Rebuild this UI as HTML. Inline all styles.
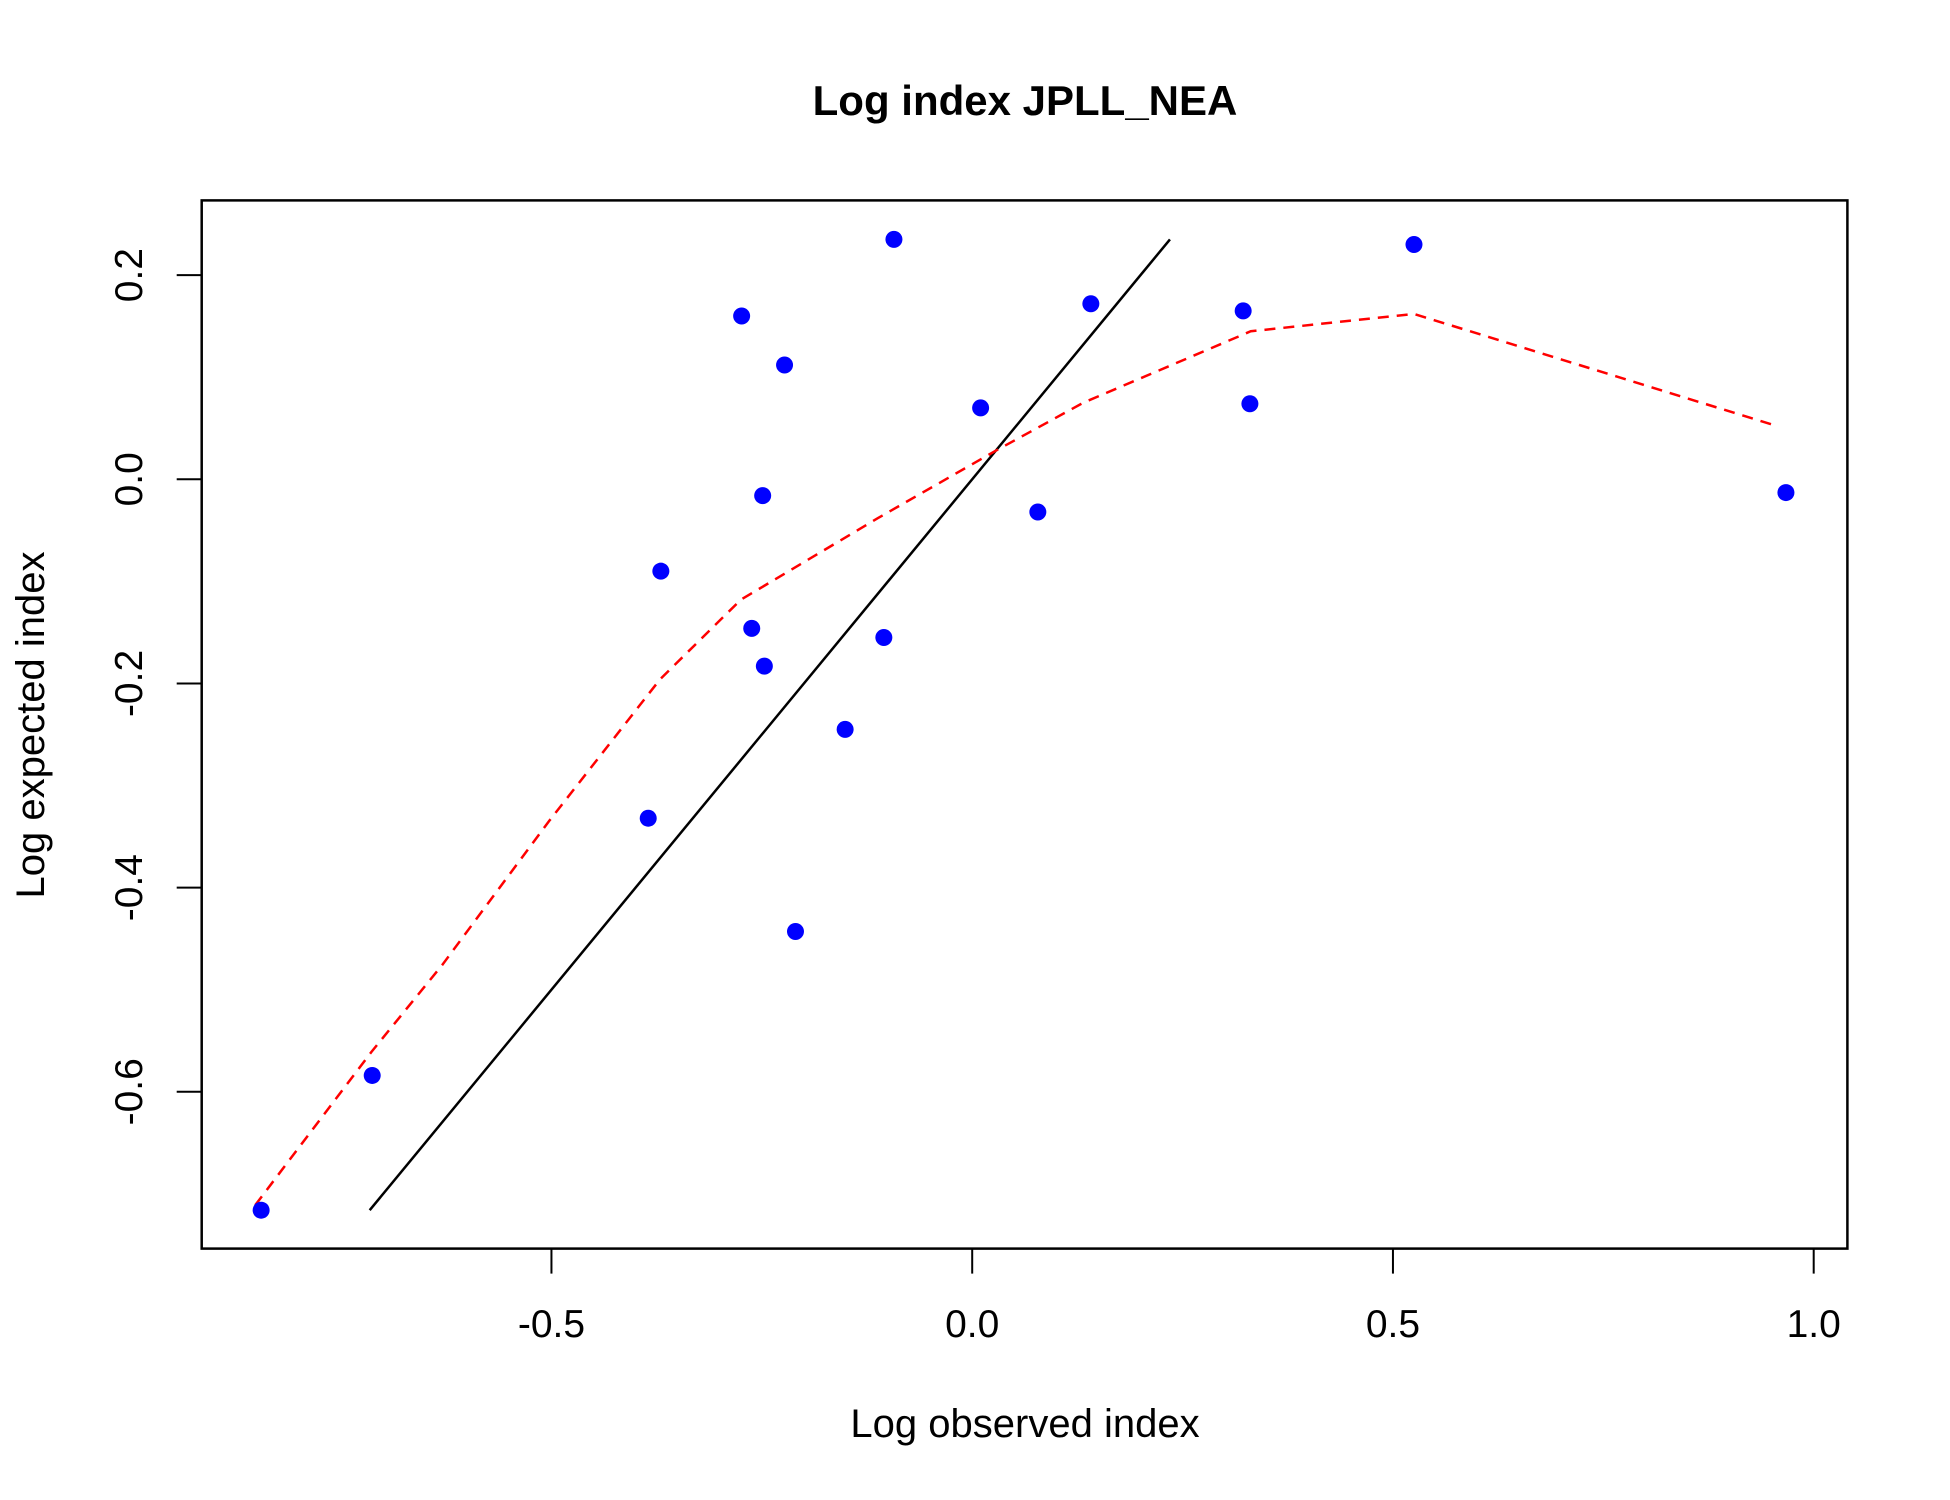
<!DOCTYPE html>
<html><head><meta charset="utf-8"><style>body{margin:0;background:#fff}svg{display:block}text{font-family:"Liberation Sans",Arial,sans-serif}</style></head>
<body>
<svg id="chart" width="1950" height="1500" xmlns="http://www.w3.org/2000/svg">
<rect width="1950" height="1500" fill="#fff"/>
<text x="1025" y="115" font-size="42" font-weight="bold" text-anchor="middle">Log index JPLL_NEA</text>
<g id="plot"></g>
<text x="1025" y="1437" font-size="40" text-anchor="middle">Log observed index</text>
<text transform="translate(44,725) rotate(-90)" font-size="40" text-anchor="middle">Log expected index</text>
</svg>
<script>
const obsX=[-0.845,-0.713,-0.385,-0.370,-0.274,-0.262,-0.249,-0.247,-0.223,-0.210,-0.151,-0.105,-0.093,0.010,0.078,0.141,0.322,0.330,0.525,0.967];
const expY=[-0.716,-0.584,-0.332,-0.090,0.160,-0.146,-0.016,-0.183,0.112,-0.443,-0.245,-0.155,0.235,0.070,-0.032,0.172,0.165,0.074,0.230,-0.013];
const smoothX=[-0.852,-0.714,-0.630,-0.503,-0.371,-0.275,-0.112,0.028,0.132,0.331,0.525,0.957];
const smoothY=[-0.711,-0.561,-0.476,-0.335,-0.196,-0.118,-0.038,0.028,0.075,0.145,0.162,0.052];
const xTicks=[-0.5,0.0,0.5,1.0];
const xTickLabels=["-0.5","0.0","0.5","1.0"];
const yTicks=[-0.6,-0.4,-0.2,0.0,0.2];
const yTickLabels=["-0.6","-0.4","-0.2","0.0","0.2"];
const NS="http://www.w3.org/2000/svg";
const sx=v=>972.2+841.5*v, sy=v=>479.3-1020.8*v;
const g=document.getElementById('plot');
function mk(t,a){const e=document.createElementNS(NS,t);for(const k in a)e.setAttribute(k,a[k]);g.appendChild(e);return e;}
let e=mk('rect',{x:201.7,y:200.4,width:1645.7,height:1048.2,fill:'none',stroke:'#000','stroke-width':2.5});


xTicks.forEach((t,i)=>{
 let l=mk('line',{x1:sx(t),x2:sx(t),y1:1248.6,y2:1273.6,stroke:'#000','stroke-width':2});
 
 
 let tx=mk('text',{x:sx(t),y:1337,'font-size':39,'text-anchor':'middle'});tx.textContent=xTickLabels[i];
 
 
});
yTicks.forEach((t,i)=>{
 let l=mk('line',{x1:176.7,x2:201.7,y1:sy(t),y2:sy(t),stroke:'#000','stroke-width':2});
 
 
 let tx=mk('text',{transform:`translate(142,${sy(t)}) rotate(-90)`,'font-size':39,'text-anchor':'middle'});tx.textContent=yTickLabels[i];
 
 
});
const mn=Math.min(...expY), mx=Math.max(...expY);
let d=mk('line',{x1:sx(mn),y1:sy(mn),x2:sx(mx),y2:sy(mx),stroke:'#000','stroke-width':2.5});


let p=mk('polyline',{points:smoothX.map((x,i)=>sx(x)+','+sy(smoothY[i])).join(' '),fill:'none',stroke:'#f00','stroke-width':2.5,'stroke-dasharray':'11,8'});


obsX.forEach((x,i)=>{
 let c=mk('circle',{cx:sx(x),cy:sy(expY[i]),r:8.5,fill:'#00f'});
 
 
});
</script>
</body></html>
